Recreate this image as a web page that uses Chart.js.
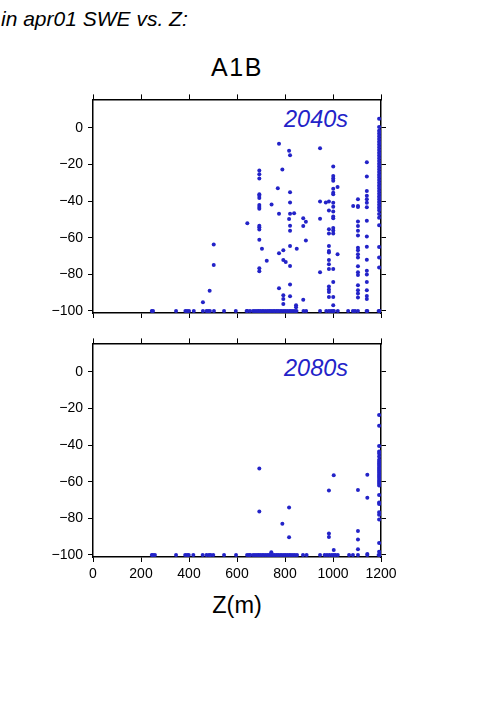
<!DOCTYPE html>
<html>
<head>
<meta charset="utf-8">
<script src="https://cdn.jsdelivr.net/npm/chart.js@4.4.1/dist/chart.umd.min.js"></script>
<style>
  body { margin: 0; background: #fff; width: 501px; height: 709px; overflow: hidden; position: relative; font-family: "Liberation Sans", Arial, sans-serif; }
  canvas { position: absolute; left: 0; }
  .txt { position: absolute; white-space: nowrap; line-height: 1; }
</style>
</head>
<body>
<div class="txt" style="left:1px; top:8px; font-size:21px; font-style:italic;">in apr01 SWE vs. Z:</div>
<div class="txt" style="left:0; width:474px; text-align:center; top:55px; font-size:25px; letter-spacing:1.5px;">A1B</div>
<div class="txt" style="left:284px; top:108px; font-size:23.5px; font-style:italic; color:#2323c8;">2040s</div>
<div class="txt" style="left:284px; top:357px; font-size:23.5px; font-style:italic; color:#2323c8;">2080s</div>
<div class="txt" style="left:0; width:474px; text-align:center; top:594px; font-size:23.5px;">Z(m)</div>
<canvas id="c2040" width="501" height="244" style="top:86px"></canvas>
<canvas id="c2080" width="501" height="310" style="top:330px"></canvas>
<script>
// tick labels
const zTicks = [0, 200, 400, 600, 800, 1000, 1200];
const sweTicks = [0, -20, -40, -60, -80, -100];

// 2040s: elevation (m) and % change in apr01 SWE, one group per elevation band
const z2040 = [
  245, 250, 346, 385, 392, 400, 420, 458, 473, 480, 487, 504, 546, 595, 640, 643, 654,
  667, 675, 683, 690, 697, 705, 712, 720, 728, 735, 742, 750, 757, 765, 772, 780, 787,
  795, 802, 810, 818, 825, 833, 841, 848, 877, 888, 946, 972, 983, 992, 1000, 1004, 1020,
  1063, 1083, 1092, 1104, 1140, 1143, 1190, 1195,
  458, 486, 503, 503, 643,
  693, 693, 693, 693, 693, 693, 693, 693, 693, 693, 693, 693, 693, 693, 693,
  704, 724, 744, 770, 775, 775, 775, 775, 789, 793, 793, 793, 793, 793, 803,
  817, 817, 821, 821, 821, 821, 821, 821, 821, 821, 821, 821, 838, 846, 846, 849,
  876, 876, 876, 887, 887, 946, 946, 946, 946, 970,
  983, 983, 983, 983, 983, 983, 983, 983, 983, 983, 983, 983, 983, 983,
  1001, 1001, 1001, 1001, 1001, 1001, 1001, 1001, 1001, 1001, 1001, 1001, 1001, 1001,
  1001, 1001, 1001, 1001, 1001, 1019, 1019, 1084,
  1104, 1104, 1104, 1104, 1104, 1104, 1104, 1104, 1104, 1104, 1104, 1104, 1104, 1104,
  1104, 1104, 1104, 1104,
  1141, 1141, 1141, 1141, 1141, 1141, 1141, 1141, 1141, 1141, 1141, 1141, 1141, 1141,
  1141, 1141, 1141,
  1192, 1192, 1192, 1192, 1192, 1192, 1192, 1192, 1192, 1192, 1192, 1192, 1192, 1192,
  1192, 1192, 1192, 1192, 1192, 1192, 1192, 1192, 1192, 1192, 1192, 1192, 1192, 1192,
  1192, 1192, 1192, 1192, 1192, 1192, 1192, 1192, 1192, 1192,
  1195, 1195, 1195, 1195, 1195, 1195, 1195, 1195
];
const swe2040 = [
  -100, -100, -100, -100, -100, -100, -100, -100, -100, -100, -100, -100, -100, -100, -100, -100, -100,
  -100, -100, -100, -100, -100, -100, -100, -100, -100, -100, -100, -100, -100, -100, -100, -100, -100,
  -100, -100, -100, -100, -100, -100, -100, -100, -100, -100, -100, -100, -100, -100, -100, -100, -100,
  -100, -100, -100, -100, -100, -100, -100, -100,
  -95.2, -88.9, -63.7, -74.9, -52,
  -23.3, -25.3, -27.6, -36.2, -37.1, -38.3, -42.1, -43.2, -44.2, -53.4, -54.3, -55.5, -61.1, -76.7, -78.3,
  -66, -72.6, -41.8, -32.9, -8.6, -46.9, -68.4, -87.6, -22.7, -66.8, -72.2, -91.4, -93.4, -96.2, -73.3,
  -12.4, -49.8, -14.9, -35.1, -40.7, -46.9, -53.4, -56.1, -64.5, -75.4, -85.5, -91.9, -46.6, -96.8, -98, -66,
  -49.3, -53.6, -93.9, -51.2, -61.5, -11.1, -40.2, -49.6, -78.9, -40.7,
  -40.2, -45.1, -55.4, -57.7, -64.5, -67.2, -68.1, -72.2, -74.4, -77, -86.6, -88.3, -89.6, -92.3,
  -21, -26.3, -27.6, -28.9, -33.2, -35.4, -36.2, -40.9, -43, -45.7, -48.4, -49.3, -54.7, -56,
  -57.7, -77, -84.2, -92.3, -96.8, -32.3, -69, -42.6,
  -38.9, -42.6, -43.2, -51.1, -53.6, -56.1, -58.8, -65.4, -66.8, -69, -70.8, -75.6, -78.9, -80.3,
  -86, -88.7, -90.5, -92.6,
  -18.8, -26.5, -34.4, -37.1, -39, -40.9, -43.3, -50.7, -59.3, -64.9, -72, -78, -80.1, -84.2,
  -88.7, -91.8, -93.5,
  5, 0.5, -1.5, -3, -4.5, -6, -7.5, -9, -10.5, -12, -13.5, -15, -16.5, -18,
  -19.5, -21, -22.5, -24, -25.5, -27, -28.5, -30, -31.5, -33, -34.5, -36, -37.5, -39,
  -40.5, -42, -43.5, -45, -47, -49, -53.2, -65.1, -70.8, -76.2,
  -2, -8, -14, -20, -26, -32, -38, -44
];

// 2080s
const z2080 = [
  245, 250, 258, 346, 384, 392, 399, 418, 457, 473, 483, 490, 501, 546, 596, 642, 650, 655,
  667, 675, 683, 690, 697, 705, 712, 720, 728, 735, 742, 750, 757, 765, 772, 780, 787,
  795, 802, 810, 818, 825, 833, 841, 850, 875, 890, 946, 965, 975, 985, 995, 1003, 1010,
  1020, 1067, 1083, 1104, 1143, 1190, 1195,
  693, 693, 743, 789, 817, 817, 983, 983, 983, 1003, 1003,
  1104, 1104, 1104, 1104, 1143, 1143, 1143,
  1192, 1192, 1192, 1192, 1192, 1192, 1192, 1192, 1192, 1192, 1192, 1192, 1192, 1192,
  1192, 1192, 1192, 1192, 1192, 1192, 1192, 1192, 1192, 1192, 1192, 1192, 1192, 1192, 1192
];
const swe2080 = [
  -100, -100, -100, -100, -100, -100, -100, -100, -100, -100, -100, -100, -100, -100, -100, -100, -100, -100,
  -100, -100, -100, -100, -100, -100, -100, -100, -100, -100, -100, -100, -100, -100, -100, -100, -100,
  -100, -100, -100, -100, -100, -100, -100, -100, -100, -100, -100, -100, -100, -100, -100, -100, -100,
  -100, -100, -100, -100, -100, -100, -100,
  -52.7, -76.3, -98.5, -83, -74, -90.3, -64.7, -88.3, -90.2, -56.5, -97.3,
  -64.5, -86.9, -91.6, -96.9, -56.1, -68.7, -99.5,
  -23.5, -29.4, -40.5, -43.5, -44.6, -46.2, -48, -49, -50, -51, -52, -53, -54, -55,
  -56, -57, -58, -59, -60, -61, -62, -67.2, -71.3, -72.2, -76.7, -78, -80.6, -93.4, -98.2
];

const dotColor = '#2323c8';
const tickFont = { family: '"Liberation Sans", Arial, sans-serif', size: 14 };

function frameAxis(pos, size, showLabels, isX) {
  const ax = {
    type: 'linear',
    position: pos,
    min: isX ? 0 : -101.1,
    max: isX ? 1200 : 15.6,
    grid: { drawOnChartArea: false, drawTicks: true, tickLength: 5, color: '#000', lineWidth: 1 },
    border: { display: true, color: '#000', width: 1.5 },
    ticks: {
      display: showLabels,
      color: '#000',
      font: tickFont,
      padding: isX ? 4 : 5,
      callback: v => v < 0 ? '\u2212' + Math.abs(v) : String(v)
    },
    afterBuildTicks: s => { s.ticks = (isX ? zTicks : sweTicks).map(v => ({ value: v })); },
    afterFit: s => { if (isX) s.height = size; else s.width = size; }
  };
  return ax;
}

function makePanel(id, zs, swes, bottomH, bottomLabels) {
  const pts = zs.map((z, i) => ({ x: z, y: swes[i] }));
  new Chart(document.getElementById(id), {
    type: 'scatter',
    data: {
      datasets: [{
        data: pts,
        xAxisID: 'x',
        yAxisID: 'y',
        pointRadius: 2,
        pointBorderWidth: 0,
        pointBackgroundColor: dotColor,
        pointHoverRadius: 2
      }]
    },
    options: {
      responsive: false,
      animation: false,
      events: [],
      layout: { padding: 0 },
      plugins: { legend: { display: false }, tooltip: { enabled: false } },
      scales: {
        x: frameAxis('bottom', bottomH, bottomLabels, true),
        x2: frameAxis('top', 10, false, true),
        y: frameAxis('left', 93, true, false),
        y2: frameAxis('right', 120, false, false)
      }
    }
  });
}

makePanel('c2040', z2040, swe2040, 17, false);
makePanel('c2080', z2080, swe2080, 83, true);
</script>
</body>
</html>
